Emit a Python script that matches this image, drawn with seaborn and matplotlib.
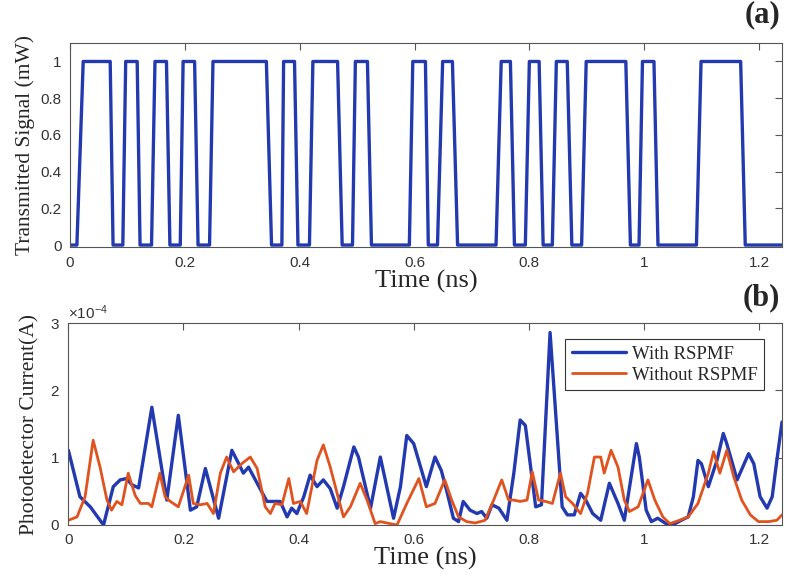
import numpy as np
import pandas as pd
import matplotlib
matplotlib.use("Agg")
import matplotlib.pyplot as plt
import matplotlib.ticker as mticker
import seaborn as sns

# 1. DATA

# transmitted signal: corner points of the on/off waveform (ns, mW)
sig_t = [0.000, 0.012, 0.023, 0.070, 0.075, 0.092, 0.097, 0.117, 0.122, 0.142,
         0.148, 0.168, 0.174, 0.192, 0.197, 0.217, 0.223, 0.243, 0.249, 0.342,
         0.351, 0.369, 0.372, 0.391, 0.397, 0.417, 0.423, 0.466, 0.474, 0.492,
         0.497, 0.518, 0.525, 0.591, 0.597, 0.619, 0.624, 0.640, 0.649, 0.666,
         0.675, 0.742, 0.751, 0.767, 0.774, 0.793, 0.800, 0.817, 0.824, 0.840,
         0.847, 0.866, 0.874, 0.891, 0.899, 0.968, 0.976, 0.991, 0.997, 1.017,
         1.024, 1.091, 1.099, 1.168, 1.176, 1.240]
sig_v = [0, 0, 1, 1, 0, 0, 1, 1, 0, 0,
         1, 1, 0, 0, 1, 1, 0, 0, 1, 1,
         0, 0, 1, 1, 0, 0, 1, 1, 0, 0,
         1, 1, 0, 0, 1, 1, 0, 0, 1, 1,
         0, 0, 1, 1, 0, 0, 1, 1, 0, 0,
         1, 1, 0, 0, 1, 1, 0, 0, 1, 1,
         0, 0, 1, 1, 0, 0]

# photodetector current with RSPMF (ns, x1e-4 A)
with_t = [0.000, 0.020, 0.038, 0.061, 0.078, 0.090, 0.101, 0.110, 0.122, 0.145,
          0.171, 0.191, 0.212, 0.223, 0.238, 0.261, 0.284, 0.296, 0.304, 0.313,
          0.328, 0.345, 0.368, 0.380, 0.388, 0.397, 0.409, 0.420, 0.432, 0.443,
          0.455, 0.467, 0.478, 0.496, 0.504, 0.525, 0.542, 0.565, 0.577, 0.588,
          0.600, 0.622, 0.637, 0.648, 0.657, 0.669, 0.678, 0.686, 0.698, 0.710,
          0.718, 0.727, 0.736, 0.748, 0.762, 0.774, 0.785, 0.794, 0.812, 0.822,
          0.837, 0.858, 0.867, 0.879, 0.890, 0.899, 0.911, 0.925, 0.940, 0.955,
          0.966, 0.987, 0.992, 1.004, 1.013, 1.024, 1.042, 1.054, 1.065, 1.077,
          1.086, 1.094, 1.100, 1.112, 1.127, 1.138, 1.144, 1.162, 1.182, 1.191,
          1.202, 1.214, 1.223, 1.231, 1.240]
with_v = [1.11, 0.42, 0.27, 0.00, 0.57, 0.67, 0.69, 0.60, 0.55, 1.75,
          0.37, 1.63, 0.22, 0.27, 0.84, 0.10, 1.11, 0.91, 0.77, 0.86,
          0.62, 0.35, 0.35, 0.12, 0.25, 0.17, 0.42, 0.74, 0.57, 0.67,
          0.54, 0.25, 0.57, 1.16, 1.01, 0.25, 1.01, 0.10, 0.57, 1.33,
          1.21, 0.57, 1.01, 0.81, 0.52, 0.10, 0.05, 0.35, 0.22, 0.17,
          0.20, 0.10, 0.30, 0.25, 0.07, 0.77, 1.56, 1.48, 0.27, 0.30,
          2.86, 0.27, 0.15, 0.15, 0.47, 0.37, 0.17, 0.07, 0.62, 0.32,
          0.07, 1.21, 1.01, 0.22, 0.05, 0.10, 0.00, 0.02, 0.07, 0.12,
          0.42, 0.96, 0.91, 0.57, 0.96, 1.36, 1.21, 0.67, 1.06, 0.91,
          0.42, 0.25, 0.42, 0.96, 1.53]

# photodetector current without RSPMF (ns, x1e-4 A)
without_t = [0.000, 0.015, 0.029, 0.043, 0.055, 0.067, 0.075, 0.084, 0.093, 0.104,
             0.116, 0.125, 0.139, 0.145, 0.159, 0.168, 0.177, 0.191, 0.209, 0.217,
             0.229, 0.241, 0.252, 0.264, 0.275, 0.287, 0.301, 0.316, 0.328, 0.342,
             0.351, 0.359, 0.371, 0.383, 0.391, 0.403, 0.414, 0.432, 0.443, 0.455,
             0.470, 0.478, 0.490, 0.507, 0.519, 0.533, 0.542, 0.559, 0.571, 0.588,
             0.609, 0.622, 0.637, 0.654, 0.666, 0.678, 0.692, 0.707, 0.724, 0.739,
             0.753, 0.765, 0.774, 0.785, 0.797, 0.806, 0.817, 0.829, 0.841, 0.855,
             0.864, 0.876, 0.890, 0.902, 0.914, 0.925, 0.931, 0.943, 0.955, 0.966,
             0.975, 0.990, 1.007, 1.019, 1.033, 1.045, 1.062, 1.077, 1.094, 1.112,
             1.121, 1.132, 1.144, 1.156, 1.170, 1.185, 1.199, 1.217, 1.231, 1.240]
without_v = [0.07, 0.12, 0.42, 1.26, 0.86, 0.37, 0.22, 0.35, 0.30, 0.77,
             0.44, 0.32, 0.32, 0.27, 0.77, 0.42, 0.35, 0.27, 0.74, 0.32,
             0.30, 0.32, 0.17, 0.77, 1.01, 0.79, 0.91, 1.01, 0.84, 0.27,
             0.17, 0.32, 0.30, 0.69, 0.32, 0.35, 0.17, 0.96, 1.19, 0.86,
             0.37, 0.12, 0.27, 0.62, 0.37, 0.02, 0.05, 0.02, 0.00, 0.32,
             0.69, 0.27, 0.32, 0.67, 0.37, 0.12, 0.05, 0.03, 0.07, 0.37,
             0.67, 0.37, 0.37, 0.35, 0.37, 0.79, 0.37, 0.35, 0.32, 0.77,
             0.42, 0.32, 0.17, 0.47, 1.01, 1.01, 0.77, 1.11, 0.86, 0.37,
             0.20, 0.27, 0.67, 0.37, 0.12, 0.02, 0.07, 0.12, 0.32, 0.77,
             1.09, 0.77, 1.11, 0.72, 0.37, 0.15, 0.05, 0.05, 0.07, 0.15]

x_ticks = [0, 0.2, 0.4, 0.6, 0.8, 1.0, 1.2]
sig_ticks = [0, 0.2, 0.4, 0.6, 0.8, 1.0]
cur_ticks = [0, 1e-4, 2e-4, 3e-4]

BLUE = "#2339b0"
ORANGE = "#e0531f"

sig = pd.DataFrame({"t": sig_t, "v": sig_v})
pd_with = pd.DataFrame({"t": with_t, "v": np.array(with_v) * 1e-4})
pd_without = pd.DataFrame({"t": without_t, "v": np.array(without_v) * 1e-4})

# 2. STYLE

sns.set_theme(style="white")
plt.rcParams["font.family"] = ["Liberation Sans", "DejaVu Sans"]
plt.rcParams["mathtext.fontset"] = "custom"
plt.rcParams["mathtext.rm"] = "Liberation Sans"
plt.rcParams["mathtext.it"] = "Liberation Sans"

serif = ["Liberation Serif", "DejaVu Serif"]

fig = plt.figure(figsize=(8, 5.75), dpi=100)
ax1 = fig.add_axes([0.0875, 0.570, 0.890, 0.355])
ax2 = fig.add_axes([0.0855, 0.087, 0.892, 0.351])


def style_axes(ax):
    for s in ax.spines.values():
        s.set_color("#555555")
        s.set_linewidth(0.8)
    ax.tick_params(direction="in", length=5, width=0.8, color="#555555",
                   top=True, right=True, labelsize=11, labelcolor="#333333",
                   pad=6)
    ax.set_xticks(x_ticks)
    ax.xaxis.set_major_formatter(mticker.FuncFormatter(lambda v, p: f"{v:g}"))


# 3. TOP PANEL: TRANSMITTED SIGNAL

sns.lineplot(data=sig, x="t", y="v", ax=ax1, color=BLUE, linewidth=2.4,
             sort=False, estimator=None)
ax1.set_xlim(0, 1.24)
ax1.set_ylim(-0.012, 1.1)
style_axes(ax1)
ax1.set_yticks(sig_ticks)
ax1.yaxis.set_major_formatter(mticker.FuncFormatter(lambda v, p: f"{v:g}"))
ax1.set_xlabel("Time (ns)", family=serif, fontsize=19, labelpad=0)
ax1.set_ylabel("Transmitted Signal (mW)", family=serif, fontsize=15.5, labelpad=4)
fig.text(0.975, 0.975, "(a)", family=serif, fontsize=22, fontweight="bold",
         ha="right", va="center")

# 4. BOTTOM PANEL: PHOTODETECTOR CURRENT

sns.lineplot(data=pd_with, x="t", y="v", ax=ax2, color=BLUE, linewidth=2.4,
             sort=False, estimator=None, label="With RSPMF")
sns.lineplot(data=pd_without, x="t", y="v", ax=ax2, color=ORANGE, linewidth=2.0,
             sort=False, estimator=None, label="Without RSPMF")
ax2.set_xlim(0, 1.24)
ax2.set_ylim(0, 3e-4)
style_axes(ax2)
ax2.set_yticks(cur_ticks)
fmt = mticker.ScalarFormatter(useMathText=True)
fmt.set_powerlimits((0, 0))
ax2.yaxis.set_major_formatter(fmt)
ax2.yaxis.get_offset_text().set_fontsize(11)
ax2.yaxis.get_offset_text().set_color("#333333")
ax2.set_xlabel("Time (ns)", family=serif, fontsize=19, labelpad=0)
ax2.set_ylabel("Photodetector Current(A)", family=serif, fontsize=15.5, labelpad=8)
fig.text(0.975, 0.482, "(b)", family=serif, fontsize=22, fontweight="bold",
         ha="right", va="center")

leg = ax2.legend(loc="upper right", bbox_to_anchor=(0.975, 0.92),
                 borderaxespad=0,
                 prop={"family": serif, "size": 13.5}, handlelength=2.9,
                 handletextpad=0.3, borderpad=0.35, labelspacing=0.2,
                 fancybox=False, framealpha=1)
leg.get_frame().set_edgecolor("#333333")
leg.get_frame().set_linewidth(0.8)

fig.savefig("out.png", dpi=100)
